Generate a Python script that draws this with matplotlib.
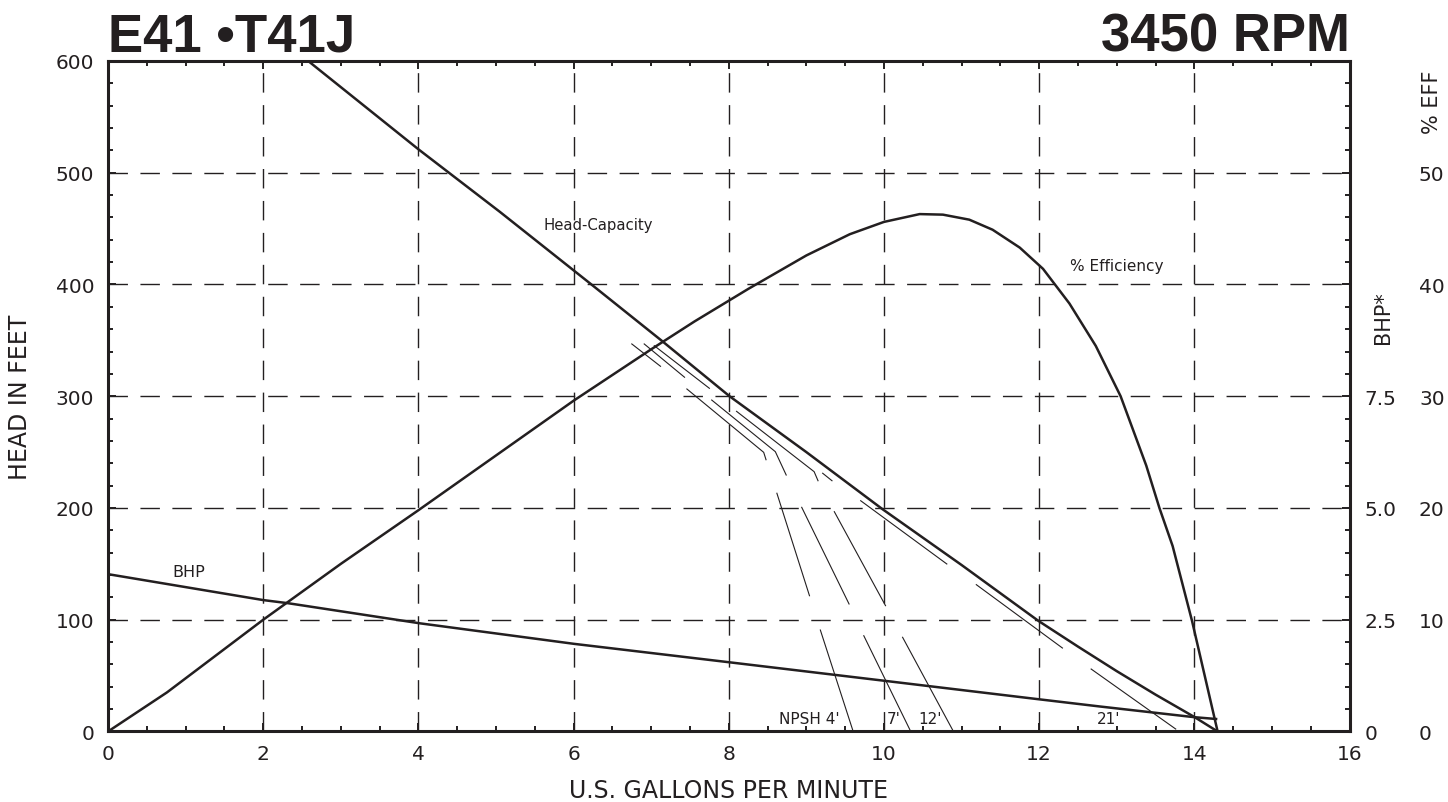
import matplotlib.pyplot as plt
from matplotlib.ticker import MultipleLocator, NullLocator

# Head-capacity curve (gpm, feet)
gpm_head = [2.58, 4.0, 5.05, 6.23, 7.13, 8.01, 9.0, 9.98, 11.0, 11.99, 12.5, 13.0, 13.5, 14.0, 14.3]
head_ft = [600, 521, 465, 400, 350, 300, 250, 199, 149, 99, 76, 54, 33, 13, 0]

# Efficiency curve (gpm, %)
gpm_eff = [0, 0.76, 2.0, 3.0, 4.0, 5.0, 6.0, 7.0, 7.56, 8.25, 9.0, 9.56, 10.0,
           10.46, 10.76, 11.1, 11.4, 11.75, 12.05, 12.39, 12.73, 13.05, 13.38, 13.55,
           13.72, 13.97, 14.3]
eff_pct = [0, 3.5, 10.0, 15.0, 19.8, 24.7, 29.6, 34.2, 36.7, 39.6, 42.6, 44.5, 45.6,
           46.3, 46.25, 45.8, 44.9, 43.3, 41.4, 38.3, 34.5, 30.0, 23.8, 20.0,
           16.6, 9.9, 0]

# Brake horsepower curve (gpm, hp)
gpm_bhp = [0, 2.0, 2.32, 4.02, 6.01, 8.0, 9.98, 12.0, 12.78, 14.0, 14.28]
bhp_hp = [3.52, 2.94, 2.87, 2.42, 1.96, 1.55, 1.14, 0.72, 0.56, 0.32, 0.28]

# scale of the right hand axes against head in feet
FT_PER_BHP = 40
FT_PER_EFF = 10

# NPSH curves, drawn as broken segments (gpm, feet)
npsh_4_gpm = [[6.75, 7.12], [7.46, 8.45, 8.48], [8.62, 9.04], [9.18, 9.60]]
npsh_4_ft = [[346.8, 326.8], [306.5, 249.8, 243.2], [213.2, 121.5], [90.8, 0.7]]
npsh_7_gpm = [[6.91, 7.43], [7.78, 8.60, 8.74], [8.94, 9.55], [9.74, 10.34]]
npsh_7_ft = [[346.8, 317.0], [296.6, 250.4, 229.5], [200.6, 114.1], [85.7, 0.7]]
npsh_12_gpm = [[7.04, 7.75], [8.10, 9.10, 9.15], [9.36, 10.02], [10.24, 10.89]]
npsh_12_ft = [[345.2, 307.1], [286.5, 232.5, 224.4], [196.7, 112.6], [84.3, 0.7]]
npsh_21_gpm = [[9.21, 9.33], [9.70, 10.81], [11.19, 12.30], [12.67, 13.76]]
npsh_21_ft = [[231.1, 224.4], [206.5, 149.9], [131.4, 74.7], [55.9, 2.2]]

npsh_labels = ["NPSH 4'", "7'", "12'", "21'"]
npsh_label_gpm = [9.04, 10.12, 10.59, 12.9]

ink = '#231f20'
plt.rcParams['font.family'] = ['DejaVu Sans']

fig = plt.figure(figsize=(14.48, 8.03), dpi=100)
ax = fig.add_axes([0.0746, 0.0878, 0.8574, 0.835])
ax.set_xlim(0, 16)
ax.set_ylim(0, 600)

ax.plot(gpm_head, head_ft, color=ink, lw=1.8, solid_capstyle='butt')
ax.plot(gpm_eff, [e * FT_PER_EFF for e in eff_pct], color=ink, lw=1.8)
ax.plot(gpm_bhp, [b * FT_PER_BHP for b in bhp_hp], color=ink, lw=1.8)

for gs, fs in [(npsh_4_gpm, npsh_4_ft), (npsh_7_gpm, npsh_7_ft),
               (npsh_12_gpm, npsh_12_ft), (npsh_21_gpm, npsh_21_ft)]:
    for g, f in zip(gs, fs):
        ax.plot(g, f, color=ink, lw=0.8)

for lab, g in zip(npsh_labels, npsh_label_gpm):
    ax.text(g, 7.5, lab, ha='center', va='baseline', fontsize=11, color=ink)

ax.text(6.32, 454, 'Head-Capacity', ha='center', va='center', fontsize=10.7, color=ink)
ax.text(13.0, 417, '% Efficiency', ha='center', va='center', fontsize=11, color=ink)
ax.text(1.04, 143, 'BHP', ha='center', va='center', fontsize=11.5, color=ink)

# grid and ticks
ax.xaxis.set_major_locator(MultipleLocator(2))
ax.xaxis.set_minor_locator(MultipleLocator(0.5))
ax.yaxis.set_major_locator(MultipleLocator(100))
ax.yaxis.set_minor_locator(MultipleLocator(20))
ax.grid(True, which='major', color=ink, lw=1.0, linestyle=(0, (14, 9)))
ax.tick_params(which='both', direction='in', top=True, right=True, width=1.4,
               color=ink, labelsize=14.5, labelcolor=ink)
ax.tick_params(which='major', length=6)
ax.tick_params(which='minor', length=3.5)
ax.tick_params(axis='y', pad=10)
ax.tick_params(axis='x', pad=9)
for s in ax.spines.values():
    s.set_linewidth(2.2)
    s.set_color(ink)

ax.set_xlabel('U.S. GALLONS PER MINUTE', fontsize=17, color=ink, labelpad=11)
ax.set_ylabel('HEAD IN FEET', fontsize=17, color=ink, labelpad=17)

# right hand scales
sec_bhp = ax.secondary_yaxis('right', functions=(lambda y: y / FT_PER_BHP, lambda b: b * FT_PER_BHP))
sec_bhp.set_yticks([0, 2.5, 5, 7.5], labels=['0', '2.5', '5.0', '7.5'])
sec_bhp.yaxis.set_minor_locator(NullLocator())
sec_bhp.tick_params(length=0, pad=11, labelsize=14.5, labelcolor=ink)
sec_bhp.spines['right'].set_visible(False)

sec_eff = ax.secondary_yaxis('right', functions=(lambda y: y / FT_PER_EFF, lambda e: e * FT_PER_EFF))
sec_eff.set_yticks([0, 10, 20, 30, 40, 50])
sec_eff.yaxis.set_minor_locator(NullLocator())
sec_eff.tick_params(length=0, pad=50, labelsize=14.5, labelcolor=ink)
sec_eff.spines['right'].set_visible(False)

fig.text(0.955, 0.604, 'BHP*', rotation=90, ha='center', va='center', fontsize=15, color=ink)
fig.text(0.989, 0.873, '% EFF', rotation=90, ha='center', va='center', fontsize=15, color=ink)

# titles
fig.text(0.0746, 1 - 52 / 803, 'E41 •T41J', ha='left', va='baseline', fontsize=38,
         fontweight='bold', family='Liberation Sans', color=ink)
fig.text(0.932, 1 - 52 / 803, '3450 RPM', ha='right', va='baseline', fontsize=38,
         fontweight='bold', family='Liberation Sans', color=ink)

fig.savefig('out.png', dpi=100)
